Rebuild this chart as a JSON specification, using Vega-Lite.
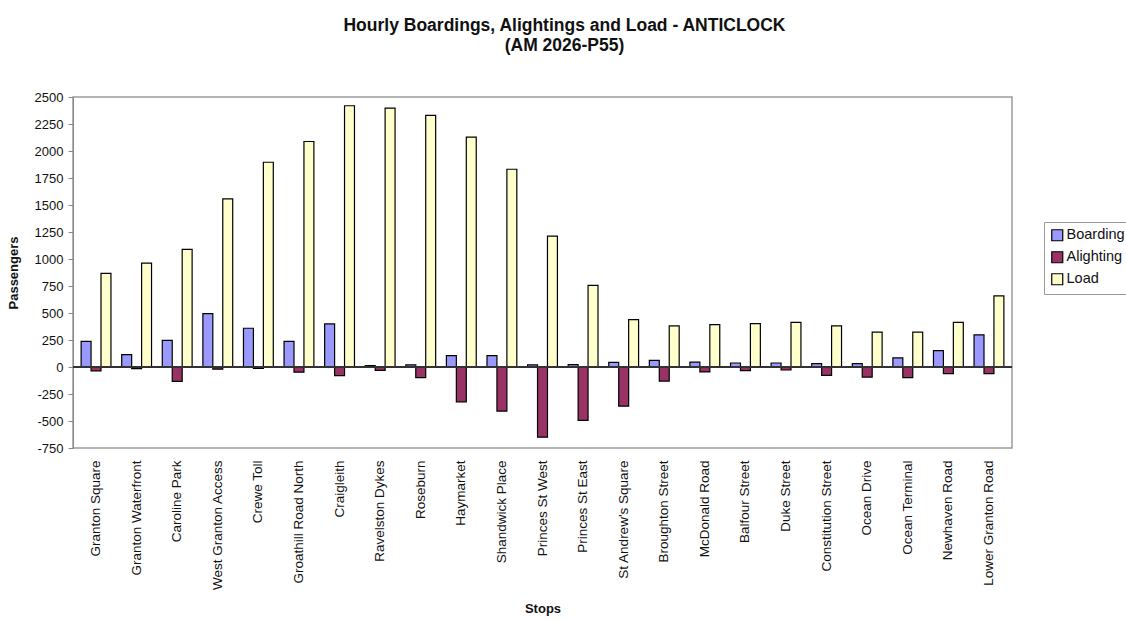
{
  "$schema": "https://vega.github.io/schema/vega-lite/v6.json",
  "autosize": {"type": "none"},
  "width": 939,
  "height": 351,
  "padding": {"left": 73, "top": 97, "right": 114, "bottom": 173},
  "background": "white",
  "config": {
    "font": "Liberation Sans",
    "view": {"stroke": "#9a9a9a", "strokeWidth": 1.5},
    "axisY": {"labelOverlap": false, "labelBound": false, "labelFlush": false}
  },
  "title": {
    "text": ["Hourly Boardings, Alightings and Load - ANTICLOCK", "(AM 2026-P55)"],
    "font": "Liberation Sans",
    "fontSize": 17.5,
    "fontWeight": "bold",
    "color": "#111",
    "anchor": "middle",
    "dx": 22,
    "offset": 37,
    "lineHeight": 20
  },
  "data": {
    "values": [
      {"stop": "Granton Square", "series": "Boarding", "value": 238},
      {"stop": "Granton Square", "series": "Alighting", "value": -35},
      {"stop": "Granton Square", "series": "Load", "value": 866},
      {"stop": "Granton Waterfront", "series": "Boarding", "value": 114},
      {"stop": "Granton Waterfront", "series": "Alighting", "value": -15},
      {"stop": "Granton Waterfront", "series": "Load", "value": 962},
      {"stop": "Caroline Park", "series": "Boarding", "value": 247},
      {"stop": "Caroline Park", "series": "Alighting", "value": -133},
      {"stop": "Caroline Park", "series": "Load", "value": 1089},
      {"stop": "West Granton Access", "series": "Boarding", "value": 495},
      {"stop": "West Granton Access", "series": "Alighting", "value": -20},
      {"stop": "West Granton Access", "series": "Load", "value": 1556},
      {"stop": "Crewe Toll", "series": "Boarding", "value": 359},
      {"stop": "Crewe Toll", "series": "Alighting", "value": -12},
      {"stop": "Crewe Toll", "series": "Load", "value": 1896},
      {"stop": "Groathill Road North", "series": "Boarding", "value": 238},
      {"stop": "Groathill Road North", "series": "Alighting", "value": -48},
      {"stop": "Groathill Road North", "series": "Load", "value": 2088},
      {"stop": "Craigleith", "series": "Boarding", "value": 399},
      {"stop": "Craigleith", "series": "Alighting", "value": -80},
      {"stop": "Craigleith", "series": "Load", "value": 2419},
      {"stop": "Ravelston Dykes", "series": "Boarding", "value": 12},
      {"stop": "Ravelston Dykes", "series": "Alighting", "value": -32},
      {"stop": "Ravelston Dykes", "series": "Load", "value": 2397},
      {"stop": "Roseburn", "series": "Boarding", "value": 20},
      {"stop": "Roseburn", "series": "Alighting", "value": -99},
      {"stop": "Roseburn", "series": "Load", "value": 2329},
      {"stop": "Haymarket", "series": "Boarding", "value": 105},
      {"stop": "Haymarket", "series": "Alighting", "value": -322},
      {"stop": "Haymarket", "series": "Load", "value": 2128},
      {"stop": "Shandwick Place", "series": "Boarding", "value": 105},
      {"stop": "Shandwick Place", "series": "Alighting", "value": -408},
      {"stop": "Shandwick Place", "series": "Load", "value": 1831},
      {"stop": "Princes St West", "series": "Boarding", "value": 19},
      {"stop": "Princes St West", "series": "Alighting", "value": -650},
      {"stop": "Princes St West", "series": "Load", "value": 1212},
      {"stop": "Princes St East", "series": "Boarding", "value": 22},
      {"stop": "Princes St East", "series": "Alighting", "value": -495},
      {"stop": "Princes St East", "series": "Load", "value": 755},
      {"stop": "St Andrew's Square", "series": "Boarding", "value": 43},
      {"stop": "St Andrew's Square", "series": "Alighting", "value": -362},
      {"stop": "St Andrew's Square", "series": "Load", "value": 439},
      {"stop": "Broughton Street", "series": "Boarding", "value": 62},
      {"stop": "Broughton Street", "series": "Alighting", "value": -130},
      {"stop": "Broughton Street", "series": "Load", "value": 380},
      {"stop": "McDonald Road", "series": "Boarding", "value": 46},
      {"stop": "McDonald Road", "series": "Alighting", "value": -46},
      {"stop": "McDonald Road", "series": "Load", "value": 393},
      {"stop": "Balfour Street", "series": "Boarding", "value": 37},
      {"stop": "Balfour Street", "series": "Alighting", "value": -34},
      {"stop": "Balfour Street", "series": "Load", "value": 402},
      {"stop": "Duke Street", "series": "Boarding", "value": 37},
      {"stop": "Duke Street", "series": "Alighting", "value": -28},
      {"stop": "Duke Street", "series": "Load", "value": 414},
      {"stop": "Constitution Street", "series": "Boarding", "value": 31},
      {"stop": "Constitution Street", "series": "Alighting", "value": -77},
      {"stop": "Constitution Street", "series": "Load", "value": 380},
      {"stop": "Ocean Drive", "series": "Boarding", "value": 31},
      {"stop": "Ocean Drive", "series": "Alighting", "value": -93},
      {"stop": "Ocean Drive", "series": "Load", "value": 322},
      {"stop": "Ocean Terminal", "series": "Boarding", "value": 84},
      {"stop": "Ocean Terminal", "series": "Alighting", "value": -99},
      {"stop": "Ocean Terminal", "series": "Load", "value": 322},
      {"stop": "Newhaven Road", "series": "Boarding", "value": 152},
      {"stop": "Newhaven Road", "series": "Alighting", "value": -62},
      {"stop": "Newhaven Road", "series": "Load", "value": 414},
      {"stop": "Lower Granton Road", "series": "Boarding", "value": 297},
      {"stop": "Lower Granton Road", "series": "Alighting", "value": -62},
      {"stop": "Lower Granton Road", "series": "Load", "value": 659}
    ]
  },
  "encoding": {
    "y": {
      "field": "value",
      "type": "quantitative",
      "scale": {"domain": [-750, 2500], "nice": false, "zero": false},
      "axis": {
        "title": "Passengers",
        "titleFont": "Liberation Sans",
        "titleFontSize": 13,
        "titleFontWeight": "bold",
        "titleColor": "#111",
        "titlePadding": 14,
        "values": [-750, -500, -250, 0, 250, 500, 750, 1000, 1250, 1500, 1750, 2000, 2250, 2500],
        "labelExpr": "'' + datum.value",
        "labelOverlap": false,
        "labelFontSize": 13,
        "labelColor": "#111",
        "labelPadding": 5,
        "grid": false,
        "domainColor": "#888",
        "tickColor": "#888",
        "tickSize": 5
      }
    }
  },
  "layer": [
    {
      "mark": {"type": "bar", "stroke": "black", "strokeWidth": 1.2},
      "encoding": {
        "x": {
          "field": "stop",
          "type": "nominal",
          "sort": null,
          "scale": {"paddingInner": 0.265, "paddingOuter": 0.2},
          "axis": {
            "title": "Stops",
            "titleFont": "Liberation Sans",
            "titleFontSize": 13,
            "titleFontWeight": "bold",
            "titleColor": "#111",
            "titlePadding": 12,
            "labelAngle": -90,
            "labelFontSize": 13.5,
            "labelColor": "#111",
            "labelPadding": 12,
            "labelOverlap": false,
            "domain": false,
            "ticks": false
          }
        },
        "xOffset": {
          "field": "series",
          "type": "nominal",
          "sort": ["Boarding", "Alighting", "Load"],
          "scale": {"paddingInner": 0, "paddingOuter": 0}
        },
        "color": {
          "field": "series",
          "type": "nominal",
          "sort": ["Boarding", "Alighting", "Load"],
          "scale": {"domain": ["Boarding", "Alighting", "Load"], "range": ["#9999FF", "#993366", "#FFFFCC"]},
          "legend": {
            "title": null,
            "orient": "none",
            "legendX": 971,
            "legendY": 125,
            "symbolType": "square",
            "symbolSize": 121,
            "symbolStrokeColor": "black",
            "symbolStrokeWidth": 1.2,
            "symbolOpacity": 1,
            "labelFontSize": 14.5,
            "labelColor": "#111",
            "labelOffset": 2,
            "rowPadding": 5,
            "padding": 6,
            "strokeColor": "#9a9a9a",
            "fillColor": "white"
          }
        }
      }
    },
    {
      "mark": {"type": "rule", "color": "#333", "strokeWidth": 1},
      "encoding": {"y": {"datum": 0}}
    }
  ]
}
